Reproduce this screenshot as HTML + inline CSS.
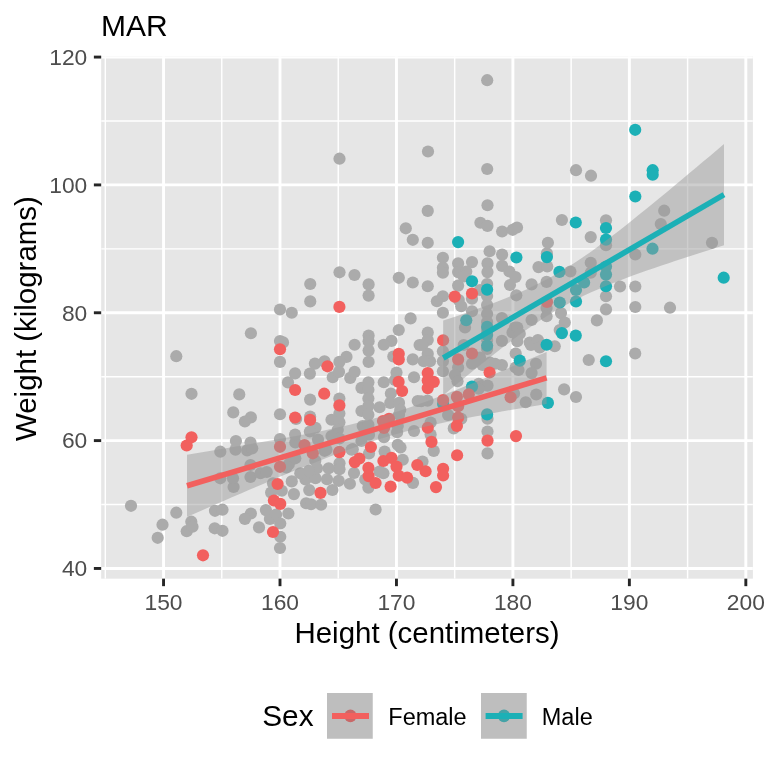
<!DOCTYPE html><html lang="en"><head><meta charset="utf-8"><title>MAR</title><style>html,body{margin:0;padding:0;background:#fff}svg{display:block;will-change:transform}text{font-family:"Liberation Sans",sans-serif}</style></head><body>
<svg width="768" height="768" viewBox="0 0 768 768">
<rect width="768" height="768" fill="#fff"/>
<rect x="101.17" y="56.2" width="651.73" height="522.4699999999999" fill="#E6E6E6"/>
<clipPath id="cp"><rect x="101.17" y="56.2" width="651.73" height="522.4699999999999"/></clipPath>
<g clip-path="url(#cp)">
<line x1="105.31" x2="105.31" y1="56.2" y2="578.67" stroke="#fff" stroke-width="1.45"/>
<line x1="221.77" x2="221.77" y1="56.2" y2="578.67" stroke="#fff" stroke-width="1.45"/>
<line x1="338.23" x2="338.23" y1="56.2" y2="578.67" stroke="#fff" stroke-width="1.45"/>
<line x1="454.68" x2="454.68" y1="56.2" y2="578.67" stroke="#fff" stroke-width="1.45"/>
<line x1="571.14" x2="571.14" y1="56.2" y2="578.67" stroke="#fff" stroke-width="1.45"/>
<line x1="687.60" x2="687.60" y1="56.2" y2="578.67" stroke="#fff" stroke-width="1.45"/>
<line y1="504.54" y2="504.54" x1="101.17" x2="752.9" stroke="#fff" stroke-width="1.45"/>
<line y1="376.69" y2="376.69" x1="101.17" x2="752.9" stroke="#fff" stroke-width="1.45"/>
<line y1="248.85" y2="248.85" x1="101.17" x2="752.9" stroke="#fff" stroke-width="1.45"/>
<line y1="121.00" y2="121.00" x1="101.17" x2="752.9" stroke="#fff" stroke-width="1.45"/>
<line x1="163.54" x2="163.54" y1="56.2" y2="578.67" stroke="#fff" stroke-width="2.9"/>
<line x1="280.00" x2="280.00" y1="56.2" y2="578.67" stroke="#fff" stroke-width="2.9"/>
<line x1="396.46" x2="396.46" y1="56.2" y2="578.67" stroke="#fff" stroke-width="2.9"/>
<line x1="512.91" x2="512.91" y1="56.2" y2="578.67" stroke="#fff" stroke-width="2.9"/>
<line x1="629.37" x2="629.37" y1="56.2" y2="578.67" stroke="#fff" stroke-width="2.9"/>
<line x1="745.83" x2="745.83" y1="56.2" y2="578.67" stroke="#fff" stroke-width="2.9"/>
<line y1="568.46" y2="568.46" x1="101.17" x2="752.9" stroke="#fff" stroke-width="2.9"/>
<line y1="440.61" y2="440.61" x1="101.17" x2="752.9" stroke="#fff" stroke-width="2.9"/>
<line y1="312.77" y2="312.77" x1="101.17" x2="752.9" stroke="#fff" stroke-width="2.9"/>
<line y1="184.92" y2="184.92" x1="101.17" x2="752.9" stroke="#fff" stroke-width="2.9"/>
<line y1="57.08" y2="57.08" x1="101.17" x2="752.9" stroke="#fff" stroke-width="2.9"/>
<g fill="#ABABAB">
<circle cx="131.0" cy="505.8" r="6.1"/>
<circle cx="162.5" cy="524.7" r="6.1"/>
<circle cx="157.7" cy="537.8" r="6.1"/>
<circle cx="176.3" cy="512.7" r="6.1"/>
<circle cx="191.3" cy="521.7" r="6.1"/>
<circle cx="186.7" cy="531.2" r="6.1"/>
<circle cx="192.5" cy="526.7" r="6.1"/>
<circle cx="215.0" cy="510.8" r="6.1"/>
<circle cx="222.5" cy="509.7" r="6.1"/>
<circle cx="214.7" cy="528.3" r="6.1"/>
<circle cx="222.5" cy="530.8" r="6.1"/>
<circle cx="220.3" cy="451.7" r="6.1"/>
<circle cx="220.3" cy="478.3" r="6.1"/>
<circle cx="176.3" cy="356.2" r="6.1"/>
<circle cx="191.5" cy="393.8" r="6.1"/>
<circle cx="250.9" cy="513.5" r="6.1"/>
<circle cx="244.9" cy="518.9" r="6.1"/>
<circle cx="259.0" cy="527.4" r="6.1"/>
<circle cx="265.9" cy="510.1" r="6.1"/>
<circle cx="269.9" cy="518.9" r="6.1"/>
<circle cx="276.1" cy="514.5" r="6.1"/>
<circle cx="280.25" cy="523.5" r="6.1"/>
<circle cx="288.4" cy="513.5" r="6.1"/>
<circle cx="280.25" cy="536.75" r="6.1"/>
<circle cx="280.0" cy="548.0" r="6.1"/>
<circle cx="271.1" cy="492.6" r="6.1"/>
<circle cx="273.0" cy="483.25" r="6.1"/>
<circle cx="281.75" cy="490.75" r="6.1"/>
<circle cx="291.75" cy="481.4" r="6.1"/>
<circle cx="293.9" cy="494.1" r="6.1"/>
<circle cx="309.25" cy="490.1" r="6.1"/>
<circle cx="306.1" cy="503.25" r="6.1"/>
<circle cx="311.1" cy="504.25" r="6.1"/>
<circle cx="321.1" cy="504.75" r="6.1"/>
<circle cx="305.5" cy="479.5" r="6.1"/>
<circle cx="315.5" cy="478.25" r="6.1"/>
<circle cx="250.5" cy="477.0" r="6.1"/>
<circle cx="233.6" cy="487.0" r="6.1"/>
<circle cx="233.0" cy="478.25" r="6.1"/>
<circle cx="260.5" cy="473.25" r="6.1"/>
<circle cx="266.75" cy="472.0" r="6.1"/>
<circle cx="300.3" cy="473.3" r="6.1"/>
<circle cx="235.5" cy="449.6" r="6.1"/>
<circle cx="235.9" cy="441.0" r="6.1"/>
<circle cx="250.5" cy="442.5" r="6.1"/>
<circle cx="247.2" cy="450.4" r="6.1"/>
<circle cx="252.2" cy="448.3" r="6.1"/>
<circle cx="250.5" cy="465.0" r="6.1"/>
<circle cx="286.3" cy="467.5" r="6.1"/>
<circle cx="288.8" cy="464.2" r="6.1"/>
<circle cx="280.0" cy="439.0" r="6.1"/>
<circle cx="295.3" cy="442.5" r="6.1"/>
<circle cx="295.3" cy="458.3" r="6.1"/>
<circle cx="324.5" cy="450.8" r="6.1"/>
<circle cx="315.3" cy="460.8" r="6.1"/>
<circle cx="352.8" cy="449.2" r="6.1"/>
<circle cx="339.5" cy="463.3" r="6.1"/>
<circle cx="339.5" cy="469.2" r="6.1"/>
<circle cx="328.7" cy="468.3" r="6.1"/>
<circle cx="317.0" cy="468.3" r="6.1"/>
<circle cx="354.0" cy="473.0" r="6.1"/>
<circle cx="327.0" cy="479.2" r="6.1"/>
<circle cx="338.7" cy="480.8" r="6.1"/>
<circle cx="349.9" cy="483.75" r="6.1"/>
<circle cx="332.4" cy="490.0" r="6.1"/>
<circle cx="375.6" cy="509.5" r="6.1"/>
<circle cx="413.0" cy="482.9" r="6.1"/>
<circle cx="368.4" cy="487.6" r="6.1"/>
<circle cx="365.25" cy="479.5" r="6.1"/>
<circle cx="383.4" cy="473.25" r="6.1"/>
<circle cx="430.6" cy="434.6" r="6.1"/>
<circle cx="433.75" cy="450.9" r="6.1"/>
<circle cx="422.5" cy="461.5" r="6.1"/>
<circle cx="453.75" cy="428.4" r="6.1"/>
<circle cx="487.5" cy="431.5" r="6.1"/>
<circle cx="487.5" cy="453.4" r="6.1"/>
<circle cx="339.4" cy="398.5" r="6.1"/>
<circle cx="339.4" cy="413.5" r="6.1"/>
<circle cx="331.5" cy="419.75" r="6.1"/>
<circle cx="339.4" cy="422.25" r="6.1"/>
<circle cx="337.75" cy="429.75" r="6.1"/>
<circle cx="331.5" cy="436.0" r="6.1"/>
<circle cx="339.4" cy="438.5" r="6.1"/>
<circle cx="326.5" cy="449.75" r="6.1"/>
<circle cx="332.75" cy="377.25" r="6.1"/>
<circle cx="350.25" cy="377.9" r="6.1"/>
<circle cx="368.4" cy="382.25" r="6.1"/>
<circle cx="361.5" cy="387.9" r="6.1"/>
<circle cx="368.4" cy="389.75" r="6.1"/>
<circle cx="368.4" cy="398.5" r="6.1"/>
<circle cx="368.4" cy="406.0" r="6.1"/>
<circle cx="361.5" cy="411.0" r="6.1"/>
<circle cx="368.4" cy="414.75" r="6.1"/>
<circle cx="362.75" cy="426.0" r="6.1"/>
<circle cx="368.4" cy="424.75" r="6.1"/>
<circle cx="369.0" cy="434.75" r="6.1"/>
<circle cx="361.5" cy="441.0" r="6.1"/>
<circle cx="351.5" cy="449.75" r="6.1"/>
<circle cx="369.0" cy="453.5" r="6.1"/>
<circle cx="383.75" cy="382.25" r="6.1"/>
<circle cx="379.6" cy="407.25" r="6.1"/>
<circle cx="390.9" cy="393.5" r="6.1"/>
<circle cx="390.25" cy="402.9" r="6.1"/>
<circle cx="399.0" cy="402.9" r="6.1"/>
<circle cx="400.25" cy="409.75" r="6.1"/>
<circle cx="399.0" cy="414.75" r="6.1"/>
<circle cx="397.75" cy="426.0" r="6.1"/>
<circle cx="397.1" cy="432.25" r="6.1"/>
<circle cx="384.0" cy="437.25" r="6.1"/>
<circle cx="397.75" cy="444.75" r="6.1"/>
<circle cx="384.6" cy="451.6" r="6.1"/>
<circle cx="414.0" cy="431.0" r="6.1"/>
<circle cx="417.75" cy="401.0" r="6.1"/>
<circle cx="414.0" cy="377.25" r="6.1"/>
<circle cx="402.75" cy="459.75" r="6.1"/>
<circle cx="395.0" cy="380.0" r="6.1"/>
<circle cx="280.0" cy="361.9" r="6.1"/>
<circle cx="295.1" cy="373.4" r="6.1"/>
<circle cx="288.0" cy="382.4" r="6.1"/>
<circle cx="309.9" cy="373.6" r="6.1"/>
<circle cx="314.9" cy="363.6" r="6.1"/>
<circle cx="324.5" cy="361.4" r="6.1"/>
<circle cx="310.1" cy="399.6" r="6.1"/>
<circle cx="239.25" cy="394.4" r="6.1"/>
<circle cx="233.25" cy="412.4" r="6.1"/>
<circle cx="250.9" cy="417.4" r="6.1"/>
<circle cx="244.9" cy="421.5" r="6.1"/>
<circle cx="280.0" cy="414.25" r="6.1"/>
<circle cx="296.1" cy="419.0" r="6.1"/>
<circle cx="310.1" cy="416.5" r="6.1"/>
<circle cx="315.5" cy="427.75" r="6.1"/>
<circle cx="309.9" cy="431.5" r="6.1"/>
<circle cx="295.1" cy="434.6" r="6.1"/>
<circle cx="318.0" cy="439.6" r="6.1"/>
<circle cx="310.25" cy="284.0" r="6.1"/>
<circle cx="310.25" cy="301.4" r="6.1"/>
<circle cx="280.0" cy="309.5" r="6.1"/>
<circle cx="291.75" cy="312.75" r="6.1"/>
<circle cx="250.9" cy="333.25" r="6.1"/>
<circle cx="280.0" cy="341.1" r="6.1"/>
<circle cx="283.0" cy="342.4" r="6.1"/>
<circle cx="368.6" cy="284.4" r="6.1"/>
<circle cx="368.6" cy="295.6" r="6.1"/>
<circle cx="398.8" cy="277.8" r="6.1"/>
<circle cx="412.75" cy="282.5" r="6.1"/>
<circle cx="354.5" cy="275.0" r="6.1"/>
<circle cx="410.6" cy="318.4" r="6.1"/>
<circle cx="398.75" cy="330.0" r="6.1"/>
<circle cx="391.5" cy="340.9" r="6.1"/>
<circle cx="383.75" cy="344.75" r="6.1"/>
<circle cx="368.6" cy="335.6" r="6.1"/>
<circle cx="368.6" cy="341.25" r="6.1"/>
<circle cx="368.6" cy="350.6" r="6.1"/>
<circle cx="368.6" cy="361.9" r="6.1"/>
<circle cx="354.6" cy="344.75" r="6.1"/>
<circle cx="346.5" cy="356.9" r="6.1"/>
<circle cx="339.4" cy="361.9" r="6.1"/>
<circle cx="339.0" cy="371.9" r="6.1"/>
<circle cx="354.6" cy="371.9" r="6.1"/>
<circle cx="412.75" cy="359.4" r="6.1"/>
<circle cx="393.3" cy="356.5" r="6.1"/>
<circle cx="396.5" cy="372.5" r="6.1"/>
<circle cx="419.6" cy="345.0" r="6.1"/>
<circle cx="427.75" cy="286.25" r="6.1"/>
<circle cx="442.9" cy="296.25" r="6.1"/>
<circle cx="436.9" cy="301.25" r="6.1"/>
<circle cx="442.9" cy="312.75" r="6.1"/>
<circle cx="458.1" cy="285.6" r="6.1"/>
<circle cx="458.75" cy="300.0" r="6.1"/>
<circle cx="461.25" cy="306.25" r="6.1"/>
<circle cx="472.0" cy="298.75" r="6.1"/>
<circle cx="472.0" cy="311.25" r="6.1"/>
<circle cx="480.0" cy="290.0" r="6.1"/>
<circle cx="487.1" cy="284.0" r="6.1"/>
<circle cx="487.1" cy="296.0" r="6.1"/>
<circle cx="487.1" cy="305.0" r="6.1"/>
<circle cx="487.1" cy="314.0" r="6.1"/>
<circle cx="487.1" cy="322.0" r="6.1"/>
<circle cx="487.1" cy="331.0" r="6.1"/>
<circle cx="487.1" cy="340.0" r="6.1"/>
<circle cx="487.1" cy="349.0" r="6.1"/>
<circle cx="465.0" cy="327.5" r="6.1"/>
<circle cx="501.9" cy="318.1" r="6.1"/>
<circle cx="501.9" cy="340.9" r="6.1"/>
<circle cx="510.0" cy="285.0" r="6.1"/>
<circle cx="516.3" cy="295.3" r="6.1"/>
<circle cx="512.5" cy="332.5" r="6.1"/>
<circle cx="515.0" cy="327.5" r="6.1"/>
<circle cx="427.75" cy="332.5" r="6.1"/>
<circle cx="427.75" cy="340.0" r="6.1"/>
<circle cx="422.5" cy="345.0" r="6.1"/>
<circle cx="427.75" cy="353.75" r="6.1"/>
<circle cx="430.0" cy="361.25" r="6.1"/>
<circle cx="423.75" cy="361.25" r="6.1"/>
<circle cx="442.9" cy="351.25" r="6.1"/>
<circle cx="442.9" cy="361.25" r="6.1"/>
<circle cx="442.9" cy="371.25" r="6.1"/>
<circle cx="458.1" cy="367.5" r="6.1"/>
<circle cx="455.0" cy="375.0" r="6.1"/>
<circle cx="463.75" cy="345.0" r="6.1"/>
<circle cx="472.0" cy="363.75" r="6.1"/>
<circle cx="480.0" cy="357.5" r="6.1"/>
<circle cx="482.5" cy="365.0" r="6.1"/>
<circle cx="490.0" cy="362.5" r="6.1"/>
<circle cx="501.9" cy="365.0" r="6.1"/>
<circle cx="515.7" cy="353.5" r="6.1"/>
<circle cx="515.6" cy="367.5" r="6.1"/>
<circle cx="457.5" cy="381.25" r="6.1"/>
<circle cx="495.0" cy="363.75" r="6.1"/>
<circle cx="478.75" cy="383.75" r="6.1"/>
<circle cx="487.5" cy="385.6" r="6.1"/>
<circle cx="478.75" cy="388.75" r="6.1"/>
<circle cx="427.5" cy="400.6" r="6.1"/>
<circle cx="421.25" cy="401.25" r="6.1"/>
<circle cx="448.1" cy="415.0" r="6.1"/>
<circle cx="461.25" cy="418.75" r="6.1"/>
<circle cx="430.6" cy="422.5" r="6.1"/>
<circle cx="487.5" cy="418.75" r="6.1"/>
<circle cx="531.6" cy="284.4" r="6.1"/>
<circle cx="546.6" cy="281.9" r="6.1"/>
<circle cx="546.6" cy="308.1" r="6.1"/>
<circle cx="546.6" cy="316.25" r="6.1"/>
<circle cx="531.6" cy="320.0" r="6.1"/>
<circle cx="561.0" cy="313.1" r="6.1"/>
<circle cx="564.75" cy="322.5" r="6.1"/>
<circle cx="559.75" cy="330.0" r="6.1"/>
<circle cx="606.0" cy="296.25" r="6.1"/>
<circle cx="606.0" cy="309.4" r="6.1"/>
<circle cx="596.9" cy="320.4" r="6.1"/>
<circle cx="588.75" cy="360.0" r="6.1"/>
<circle cx="517.25" cy="327.5" r="6.1"/>
<circle cx="519.75" cy="333.75" r="6.1"/>
<circle cx="517.25" cy="341.25" r="6.1"/>
<circle cx="529.75" cy="342.5" r="6.1"/>
<circle cx="531.0" cy="345.0" r="6.1"/>
<circle cx="537.9" cy="340.0" r="6.1"/>
<circle cx="539.75" cy="347.5" r="6.1"/>
<circle cx="554.75" cy="346.25" r="6.1"/>
<circle cx="536.0" cy="363.75" r="6.1"/>
<circle cx="531.6" cy="373.1" r="6.1"/>
<circle cx="518.5" cy="370.0" r="6.1"/>
<circle cx="564.1" cy="389.4" r="6.1"/>
<circle cx="576.0" cy="397.0" r="6.1"/>
<circle cx="536.25" cy="394.5" r="6.1"/>
<circle cx="525.75" cy="402.25" r="6.1"/>
<circle cx="427.75" cy="210.9" r="6.1"/>
<circle cx="427.75" cy="242.75" r="6.1"/>
<circle cx="487.5" cy="205.25" r="6.1"/>
<circle cx="480.4" cy="222.75" r="6.1"/>
<circle cx="487.5" cy="225.9" r="6.1"/>
<circle cx="502.1" cy="231.5" r="6.1"/>
<circle cx="512.7" cy="229.8" r="6.1"/>
<circle cx="517.0" cy="227.5" r="6.1"/>
<circle cx="489.6" cy="251.25" r="6.1"/>
<circle cx="502.1" cy="254.6" r="6.1"/>
<circle cx="442.9" cy="257.75" r="6.1"/>
<circle cx="442.9" cy="267.75" r="6.1"/>
<circle cx="442.9" cy="272.75" r="6.1"/>
<circle cx="458.1" cy="263.4" r="6.1"/>
<circle cx="458.1" cy="272.1" r="6.1"/>
<circle cx="472.0" cy="262.1" r="6.1"/>
<circle cx="466.25" cy="271.5" r="6.1"/>
<circle cx="463.75" cy="276.5" r="6.1"/>
<circle cx="487.5" cy="263.4" r="6.1"/>
<circle cx="487.5" cy="272.1" r="6.1"/>
<circle cx="502.1" cy="265.9" r="6.1"/>
<circle cx="509.4" cy="271.5" r="6.1"/>
<circle cx="515.5" cy="277.0" r="6.1"/>
<circle cx="561.9" cy="220.0" r="6.1"/>
<circle cx="547.9" cy="242.75" r="6.1"/>
<circle cx="546.9" cy="253.4" r="6.1"/>
<circle cx="590.75" cy="237.1" r="6.1"/>
<circle cx="606.0" cy="220.25" r="6.1"/>
<circle cx="606.0" cy="245.25" r="6.1"/>
<circle cx="538.5" cy="267.1" r="6.1"/>
<circle cx="547.25" cy="266.5" r="6.1"/>
<circle cx="570.4" cy="271.5" r="6.1"/>
<circle cx="590.75" cy="262.75" r="6.1"/>
<circle cx="590.75" cy="272.75" r="6.1"/>
<circle cx="664.2" cy="210.7" r="6.1"/>
<circle cx="660.8" cy="224.0" r="6.1"/>
<circle cx="635.3" cy="254.5" r="6.1"/>
<circle cx="712.0" cy="242.8" r="6.1"/>
<circle cx="620.0" cy="286.5" r="6.1"/>
<circle cx="635.3" cy="286.5" r="6.1"/>
<circle cx="635.3" cy="307.0" r="6.1"/>
<circle cx="670.0" cy="307.7" r="6.1"/>
<circle cx="635.2" cy="353.5" r="6.1"/>
<circle cx="576.0" cy="170.2" r="6.1"/>
<circle cx="591.0" cy="175.7" r="6.1"/>
<circle cx="487.2" cy="80.2" r="6.1"/>
<circle cx="428.0" cy="151.5" r="6.1"/>
<circle cx="487.2" cy="169.0" r="6.1"/>
<circle cx="339.5" cy="158.7" r="6.1"/>
<circle cx="405.8" cy="228.3" r="6.1"/>
<circle cx="412.8" cy="239.8" r="6.1"/>
<circle cx="339.5" cy="272.3" r="6.1"/>
<circle cx="514.0" cy="393.5" r="6.1"/>
<circle cx="400.5" cy="447.5" r="6.1"/>
<circle cx="379.5" cy="471.5" r="6.1"/>
<circle cx="309.0" cy="470.8" r="6.1"/>
</g>
<g fill="#1CB0B6">
<circle cx="472.0" cy="281.25" r="6.1"/>
<circle cx="487.1" cy="289.6" r="6.1"/>
<circle cx="466.25" cy="320.25" r="6.1"/>
<circle cx="487.1" cy="326.9" r="6.1"/>
<circle cx="487.1" cy="335.0" r="6.1"/>
<circle cx="487.1" cy="345.6" r="6.1"/>
<circle cx="472.0" cy="386.6" r="6.1"/>
<circle cx="443.1" cy="404.0" r="6.1"/>
<circle cx="487.1" cy="414.4" r="6.1"/>
<circle cx="606.0" cy="286.25" r="6.1"/>
<circle cx="576.0" cy="290.0" r="6.1"/>
<circle cx="584.1" cy="282.5" r="6.1"/>
<circle cx="576.0" cy="301.5" r="6.1"/>
<circle cx="559.75" cy="302.5" r="6.1"/>
<circle cx="561.9" cy="333.1" r="6.1"/>
<circle cx="575.75" cy="335.6" r="6.1"/>
<circle cx="546.6" cy="344.75" r="6.1"/>
<circle cx="519.75" cy="360.6" r="6.1"/>
<circle cx="606.0" cy="361.25" r="6.1"/>
<circle cx="547.9" cy="402.9" r="6.1"/>
<circle cx="458.1" cy="242.1" r="6.1"/>
<circle cx="516.4" cy="257.5" r="6.1"/>
<circle cx="546.9" cy="257.1" r="6.1"/>
<circle cx="575.75" cy="222.5" r="6.1"/>
<circle cx="606.0" cy="228.0" r="6.1"/>
<circle cx="606.0" cy="239.6" r="6.1"/>
<circle cx="559.4" cy="271.9" r="6.1"/>
<circle cx="606.0" cy="274.6" r="6.1"/>
<circle cx="635.3" cy="196.5" r="6.1"/>
<circle cx="652.5" cy="248.7" r="6.1"/>
<circle cx="723.7" cy="277.7" r="6.1"/>
<circle cx="635.2" cy="129.8" r="6.1"/>
<circle cx="652.7" cy="170.2" r="6.1"/>
<circle cx="652.7" cy="174.7" r="6.1"/>
<circle cx="606.0" cy="266.5" r="6.1"/>
</g>
<g fill="#F2605E">
<circle cx="186.7" cy="445.5" r="6.1"/>
<circle cx="203.0" cy="555.3" r="6.1"/>
<circle cx="191.5" cy="437.3" r="6.1"/>
<circle cx="277.6" cy="484.0" r="6.1"/>
<circle cx="273.9" cy="500.5" r="6.1"/>
<circle cx="280.25" cy="503.9" r="6.1"/>
<circle cx="273.0" cy="532.0" r="6.1"/>
<circle cx="320.5" cy="492.9" r="6.1"/>
<circle cx="280.0" cy="446.8" r="6.1"/>
<circle cx="280.0" cy="466.8" r="6.1"/>
<circle cx="304.5" cy="445.0" r="6.1"/>
<circle cx="312.8" cy="453.3" r="6.1"/>
<circle cx="339.3" cy="452.1" r="6.1"/>
<circle cx="354.8" cy="462.1" r="6.1"/>
<circle cx="368.6" cy="476.1" r="6.1"/>
<circle cx="375.6" cy="483.0" r="6.1"/>
<circle cx="390.6" cy="486.6" r="6.1"/>
<circle cx="398.75" cy="475.75" r="6.1"/>
<circle cx="407.1" cy="477.6" r="6.1"/>
<circle cx="427.75" cy="427.75" r="6.1"/>
<circle cx="431.5" cy="441.9" r="6.1"/>
<circle cx="425.6" cy="471.25" r="6.1"/>
<circle cx="443.1" cy="468.75" r="6.1"/>
<circle cx="443.1" cy="475.5" r="6.1"/>
<circle cx="436.0" cy="487.1" r="6.1"/>
<circle cx="457.1" cy="455.25" r="6.1"/>
<circle cx="456.9" cy="425.9" r="6.1"/>
<circle cx="487.5" cy="440.6" r="6.1"/>
<circle cx="516.0" cy="436.1" r="6.1"/>
<circle cx="339.4" cy="405.4" r="6.1"/>
<circle cx="398.6" cy="381.9" r="6.1"/>
<circle cx="402.1" cy="391.0" r="6.1"/>
<circle cx="389.0" cy="418.9" r="6.1"/>
<circle cx="383.0" cy="421.0" r="6.1"/>
<circle cx="384.0" cy="428.0" r="6.1"/>
<circle cx="370.9" cy="447.0" r="6.1"/>
<circle cx="339.4" cy="452.0" r="6.1"/>
<circle cx="359.4" cy="458.5" r="6.1"/>
<circle cx="368.4" cy="467.9" r="6.1"/>
<circle cx="383.4" cy="461.0" r="6.1"/>
<circle cx="391.5" cy="457.9" r="6.1"/>
<circle cx="396.5" cy="466.6" r="6.1"/>
<circle cx="417.3" cy="465.0" r="6.1"/>
<circle cx="280.0" cy="349.25" r="6.1"/>
<circle cx="295.1" cy="390.0" r="6.1"/>
<circle cx="324.2" cy="393.7" r="6.1"/>
<circle cx="295.1" cy="417.5" r="6.1"/>
<circle cx="310.1" cy="419.9" r="6.1"/>
<circle cx="339.4" cy="306.9" r="6.1"/>
<circle cx="327.5" cy="366.3" r="6.1"/>
<circle cx="398.75" cy="353.75" r="6.1"/>
<circle cx="398.75" cy="359.4" r="6.1"/>
<circle cx="454.75" cy="296.6" r="6.1"/>
<circle cx="472.0" cy="293.5" r="6.1"/>
<circle cx="443.1" cy="340.25" r="6.1"/>
<circle cx="472.0" cy="353.5" r="6.1"/>
<circle cx="458.1" cy="359.4" r="6.1"/>
<circle cx="427.75" cy="373.1" r="6.1"/>
<circle cx="489.6" cy="372.5" r="6.1"/>
<circle cx="433.75" cy="381.9" r="6.1"/>
<circle cx="427.75" cy="388.1" r="6.1"/>
<circle cx="443.1" cy="400.0" r="6.1"/>
<circle cx="456.9" cy="396.9" r="6.1"/>
<circle cx="468.75" cy="394.4" r="6.1"/>
<circle cx="458.1" cy="406.25" r="6.1"/>
<circle cx="458.1" cy="417.5" r="6.1"/>
<circle cx="510.6" cy="397.25" r="6.1"/>
<circle cx="547.0" cy="301.9" r="6.1"/>
<circle cx="427.75" cy="380.5" r="6.1"/>
</g>
<path d="M187.0,454.7 L196.0,453.2 L205.0,451.7 L214.0,450.3 L223.0,448.8 L231.9,447.3 L240.9,445.7 L249.9,444.2 L258.9,442.6 L267.9,441.1 L276.9,439.5 L285.9,437.8 L294.9,436.2 L303.9,434.5 L312.9,432.7 L321.9,430.9 L330.8,429.0 L339.8,427.1 L348.8,425.0 L357.8,422.8 L366.8,420.5 L375.8,418.1 L384.8,415.4 L393.8,412.7 L402.8,409.8 L411.8,406.7 L420.7,403.5 L429.7,400.2 L438.7,396.8 L447.7,393.3 L456.7,389.7 L465.7,386.1 L474.7,382.4 L483.7,378.7 L492.7,374.9 L501.6,371.1 L510.6,367.3 L519.6,363.5 L528.6,359.6 L537.6,355.8 L546.6,351.9 L546.6,403.9 L537.6,405.4 L528.6,406.9 L519.6,408.5 L510.6,410.0 L501.6,411.6 L492.7,413.2 L483.7,414.9 L474.7,416.5 L465.7,418.2 L456.7,420.0 L447.7,421.8 L438.7,423.7 L429.7,425.7 L420.7,427.8 L411.8,430.0 L402.8,432.3 L393.8,434.8 L384.8,437.4 L375.8,440.2 L366.8,443.1 L357.8,446.2 L348.8,449.4 L339.8,452.8 L330.8,456.2 L321.9,459.7 L312.9,463.3 L303.9,466.9 L294.9,470.6 L285.9,474.3 L276.9,478.1 L267.9,481.9 L258.9,485.7 L249.9,489.6 L240.9,493.4 L231.9,497.3 L223.0,501.2 L214.0,505.1 L205.0,509.0 L196.0,512.9 L187.0,516.8Z" fill="#999999" fill-opacity="0.48"/>
<line x1="187" y1="485.75" x2="546.6" y2="377.9" stroke="#F2605E" stroke-width="5.6"/>
<path d="M443.2,320.6 L450.3,318.3 L457.3,315.9 L464.3,313.5 L471.3,311.0 L478.3,308.5 L485.4,306.0 L492.4,303.4 L499.4,300.7 L506.4,297.9 L513.4,295.0 L520.5,292.0 L527.5,288.9 L534.5,285.6 L541.5,282.1 L548.5,278.4 L555.5,274.5 L562.6,270.4 L569.6,266.1 L576.6,261.5 L583.6,256.8 L590.6,251.9 L597.7,246.8 L604.7,241.6 L611.7,236.3 L618.7,230.9 L625.7,225.4 L632.8,219.8 L639.8,214.1 L646.8,208.5 L653.8,202.7 L660.8,197.0 L667.9,191.2 L674.9,185.3 L681.9,179.5 L688.9,173.6 L695.9,167.7 L702.9,161.8 L710.0,155.9 L717.0,149.9 L724.0,144.0 L724.0,245.2 L717.0,247.4 L710.0,249.7 L702.9,251.9 L695.9,254.2 L688.9,256.4 L681.9,258.7 L674.9,261.1 L667.9,263.4 L660.8,265.8 L653.8,268.2 L646.8,270.6 L639.8,273.1 L632.8,275.6 L625.7,278.2 L618.7,280.9 L611.7,283.6 L604.7,286.5 L597.7,289.5 L590.6,292.6 L583.6,295.8 L576.6,299.2 L569.6,302.9 L562.6,306.7 L555.5,310.8 L548.5,315.0 L541.5,319.5 L534.5,324.2 L527.5,329.1 L520.5,334.1 L513.4,339.3 L506.4,344.6 L499.4,350.0 L492.4,355.4 L485.4,361.0 L478.3,366.6 L471.3,372.3 L464.3,378.0 L457.3,383.8 L450.3,389.6 L443.2,395.4Z" fill="#999999" fill-opacity="0.48"/>
<line x1="443.25" y1="358" x2="724" y2="194.6" stroke="#1CB0B6" stroke-width="5.6"/>
</g>
<line x1="163.54" x2="163.54" y1="578.67" y2="586.17" stroke="#262626" stroke-width="2.9"/>
<line x1="280.00" x2="280.00" y1="578.67" y2="586.17" stroke="#262626" stroke-width="2.9"/>
<line x1="396.46" x2="396.46" y1="578.67" y2="586.17" stroke="#262626" stroke-width="2.9"/>
<line x1="512.91" x2="512.91" y1="578.67" y2="586.17" stroke="#262626" stroke-width="2.9"/>
<line x1="629.37" x2="629.37" y1="578.67" y2="586.17" stroke="#262626" stroke-width="2.9"/>
<line x1="745.83" x2="745.83" y1="578.67" y2="586.17" stroke="#262626" stroke-width="2.9"/>
<line y1="568.46" y2="568.46" x1="93.87" x2="101.17" stroke="#262626" stroke-width="2.9"/>
<line y1="440.61" y2="440.61" x1="93.87" x2="101.17" stroke="#262626" stroke-width="2.9"/>
<line y1="312.77" y2="312.77" x1="93.87" x2="101.17" stroke="#262626" stroke-width="2.9"/>
<line y1="184.92" y2="184.92" x1="93.87" x2="101.17" stroke="#262626" stroke-width="2.9"/>
<line y1="57.08" y2="57.08" x1="93.87" x2="101.17" stroke="#262626" stroke-width="2.9"/>
<text x="163.54" y="609.9" font-size="22.8" fill="#4D4D4D" text-anchor="middle">150</text>
<text x="280.00" y="609.9" font-size="22.8" fill="#4D4D4D" text-anchor="middle">160</text>
<text x="396.46" y="609.9" font-size="22.8" fill="#4D4D4D" text-anchor="middle">170</text>
<text x="512.91" y="609.9" font-size="22.8" fill="#4D4D4D" text-anchor="middle">180</text>
<text x="629.37" y="609.9" font-size="22.8" fill="#4D4D4D" text-anchor="middle">190</text>
<text x="745.83" y="609.9" font-size="22.8" fill="#4D4D4D" text-anchor="middle">200</text>
<text x="87.3" y="576.26" font-size="22.8" fill="#4D4D4D" text-anchor="end">40</text>
<text x="87.3" y="448.41" font-size="22.8" fill="#4D4D4D" text-anchor="end">60</text>
<text x="87.3" y="320.57" font-size="22.8" fill="#4D4D4D" text-anchor="end">80</text>
<text x="87.3" y="192.72" font-size="22.8" fill="#4D4D4D" text-anchor="end">100</text>
<text x="87.3" y="64.88" font-size="22.8" fill="#4D4D4D" text-anchor="end">120</text>
<text x="100.9" y="36.1" font-size="30" fill="#000">MAR</text>
<text x="427" y="642.7" font-size="29.45" fill="#000" text-anchor="middle">Height (centimeters)</text>
<text transform="translate(35.5,318.6) rotate(-90)" font-size="29.45" fill="#000" text-anchor="middle">Weight (kilograms)</text>
<text x="262.2" y="726" font-size="29.8" fill="#000">Sex</text>
<rect x="327" y="693" width="45.75" height="45.75" fill="#BEBEBE"/>
<circle cx="350.4" cy="715.9" r="6.3" fill="#C96868"/>
<line x1="332" x2="369" y1="715.9" y2="715.9" stroke="#F2605E" stroke-width="6"/>
<text x="388.3" y="725" font-size="23.5" fill="#000">Female</text>
<rect x="481" y="693" width="45.75" height="45.75" fill="#BEBEBE"/>
<circle cx="504.0" cy="715.9" r="6.3" fill="#44A3A7"/>
<line x1="485.6" x2="522.6" y1="715.9" y2="715.9" stroke="#1CB0B6" stroke-width="6"/>
<text x="541.8" y="725" font-size="23.5" fill="#000">Male</text>
</svg></body></html>
